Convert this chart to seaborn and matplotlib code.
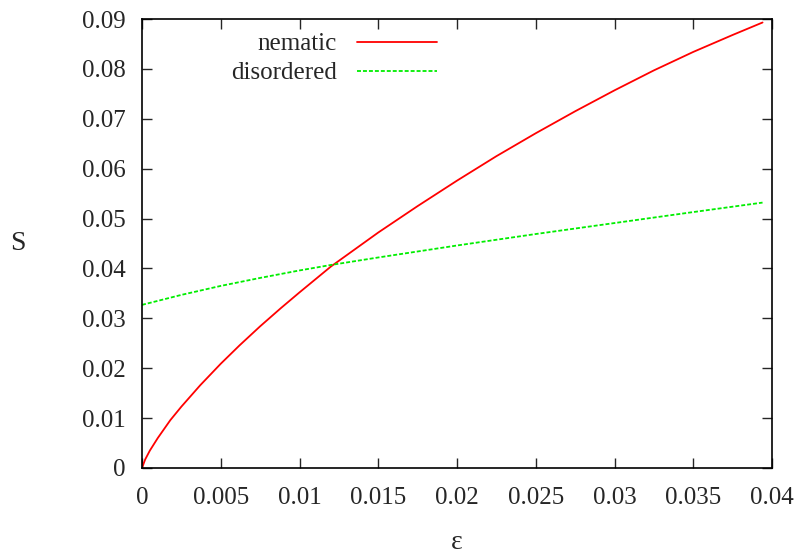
import matplotlib
matplotlib.use("Agg")
import matplotlib.pyplot as plt
import seaborn as sns
import pandas as pd

eps_nematic = [0, 0.0002, 0.0005, 0.001, 0.0018, 0.0025, 0.0037, 0.005, 0.0062,
               0.0075, 0.0088, 0.01, 0.012, 0.015, 0.0175, 0.02, 0.0225, 0.025,
               0.0275, 0.03, 0.0325, 0.035, 0.0375, 0.0394]
nematic = [0, 0.0017, 0.0035, 0.0060, 0.0096, 0.0123, 0.0166, 0.0209, 0.0246,
           0.0284, 0.0320, 0.0352, 0.0404, 0.0472, 0.0525, 0.0576, 0.0625, 0.0671,
           0.0715, 0.0757, 0.0797, 0.0834, 0.0868, 0.0893]
eps_disordered = [0, 0.0025, 0.005, 0.0075, 0.01, 0.012, 0.015, 0.02, 0.025,
                  0.03, 0.035, 0.0394]
disordered = [0.0327, 0.0347, 0.0365, 0.0381, 0.0396, 0.0407, 0.0422, 0.0446,
              0.0469, 0.0491, 0.0513, 0.0532]
xticks = [0, 0.005, 0.01, 0.015, 0.02, 0.025, 0.03, 0.035, 0.04]
xticklabels = ["0", "0.005", "0.01", "0.015", "0.02", "0.025", "0.03", "0.035", "0.04"]
yticks = [0, 0.01, 0.02, 0.03, 0.04, 0.05, 0.06, 0.07, 0.08, 0.09]
yticklabels = ["0", "0.01", "0.02", "0.03", "0.04", "0.05", "0.06", "0.07", "0.08", "0.09"]

df = pd.concat([
    pd.DataFrame({"eps": eps_nematic, "S": nematic, "phase": "nematic"}),
    pd.DataFrame({"eps": eps_disordered, "S": disordered, "phase": "disordered"}),
])

sns.set_style("ticks")
plt.rcParams["font.family"] = ["Liberation Serif", "DejaVu Serif"]

fig = plt.figure(figsize=(8.04, 5.56), dpi=100)
ax = fig.add_axes([142/804, 88/556, 630/804, 449/556])

sns.lineplot(data=df, x="eps", y="S", hue="phase", style="phase",
             palette={"nematic": "#ff0000", "disordered": "#00ee00"},
             dashes={"nematic": "", "disordered": (2.2, 1.1)},
             linewidth=1.3, ax=ax, sort=False)

ax.set_xlim(0, 0.04)
ax.set_ylim(0, 0.09)
ax.set_xticks(xticks)
ax.set_xticklabels(xticklabels)
ax.set_yticks(yticks)
ax.set_yticklabels(yticklabels)
ax.tick_params(axis="both", direction="in", length=7, width=1, labelsize=18,
               top=True, right=True)
ax.tick_params(axis="y", pad=12)
ax.tick_params(axis="x", pad=14)
for s in ax.spines.values():
    s.set_linewidth(1.2)
    s.set_color("black")

ax.set_xlabel("ε", fontsize=20)
ax.set_ylabel("S", fontsize=20, rotation=0)
ax.yaxis.set_label_coords(-0.197, 0.5)
ax.xaxis.set_label_coords(0.5, -0.166)
ax.xaxis.label.set_va("center")
ax.yaxis.label.set_va("center")

handles, labels = ax.get_legend_handles_labels()
ax.legend(handles, labels, loc="upper right",
          bbox_to_anchor=(437/804, 1 - 33/556), bbox_transform=fig.transFigure,
          frameon=False, markerfirst=False, fontsize=18, handlelength=3.2,
          handletextpad=0.8, labelspacing=0.25, borderpad=0, borderaxespad=0,
          title=None)

fig.savefig("out.png", dpi=100)
